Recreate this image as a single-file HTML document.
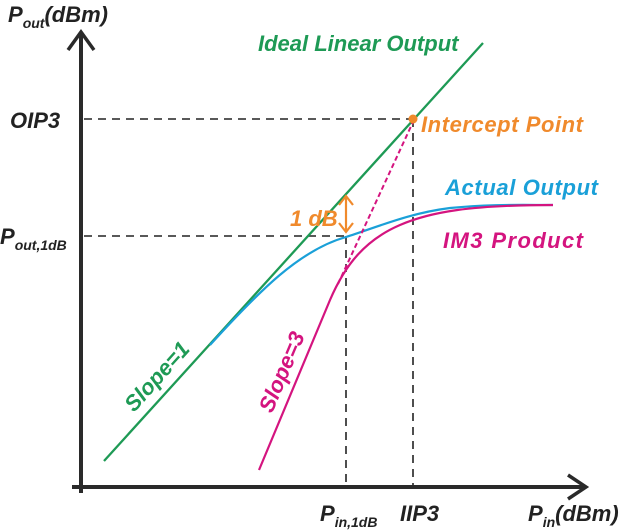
<!DOCTYPE html>
<html><head><style>body{margin:0;background:#fff}svg{display:block}</style></head><body>
<svg width="620" height="530" viewBox="0 0 620 530" xmlns="http://www.w3.org/2000/svg" font-family="Liberation Sans, sans-serif" font-style="italic" font-weight="bold">
<g stroke="#222" stroke-width="1.6" stroke-dasharray="8,6" fill="none">
<line x1="84" y1="119" x2="413" y2="119"/>
<line x1="413" y1="119" x2="413" y2="487"/>
<line x1="84" y1="236" x2="346" y2="236"/>
<line x1="346" y1="236" x2="346" y2="487"/>
</g>
<g stroke="#2a2a2a" stroke-width="4" fill="none">
<line x1="81" y1="493" x2="81" y2="32"/>
<polyline points="68,50 81,32 94,50" stroke-width="3.5"/>
<line x1="72" y1="487" x2="584" y2="487"/>
<polyline points="568,475 586,487 568,499" stroke-width="3.5"/>
</g>
<line x1="104" y1="461" x2="483" y2="43" stroke="#1e9a55" stroke-width="2.3"/>
<path d="M210,345 C260,290 300,250 346,237 C380,226 410,213 450,208 C490,204 520,205 553,205" stroke="#1aa0d8" stroke-width="2.2" fill="none"/>
<path d="M259,470 L330,300 C345,265 365,240 400,225 C430,212 470,205 553,205" stroke="#d4147f" stroke-width="2.2" fill="none"/>
<line x1="338" y1="284" x2="413" y2="122" stroke="#d4147f" stroke-width="2" stroke-dasharray="5,3"/>
<circle cx="413" cy="119" r="4.5" fill="#f08a2c"/>
<g stroke="#f08a2c" stroke-width="2.2" fill="none">
<line x1="346" y1="197" x2="346" y2="231"/>
<polyline points="339,205 346,196 353,205"/>
<polyline points="339,223 346,232 353,223"/>
</g>
<g font-size="22">
<text x="8" y="22" fill="#222">P<tspan font-size="14" dy="6">out</tspan><tspan dy="-6">(dBm)</tspan></text>
<text x="10" y="128" fill="#222">OIP3</text>
<text x="0" y="244" fill="#222">P<tspan font-size="14" dy="6">out,1dB</tspan></text>
<text x="258" y="51" fill="#1e9a55">Ideal Linear Output</text>
<text x="421" y="132" fill="#f08a2c" textLength="162">Intercept Point</text>
<text x="445" y="195" fill="#1aa0d8" textLength="153">Actual Output</text>
<text x="443" y="248" fill="#d4147f" textLength="140">IM3 Product</text>
<text x="290" y="226" fill="#f08a2c">1 dB</text>
<text x="320" y="521" fill="#222">P<tspan font-size="14" dy="6">in,1dB</tspan></text>
<text x="400" y="521" fill="#222">IIP3</text>
<text x="528" y="521" fill="#222">P<tspan font-size="14" dy="6">in</tspan><tspan dy="-6">(dBm)</tspan></text>
<text transform="translate(134,413) rotate(-48)" fill="#1e9a55">Slope=1</text>
<text transform="translate(272,414) rotate(-67)" fill="#d4147f">Slope=3</text>
</g>
</svg>
</body></html>
